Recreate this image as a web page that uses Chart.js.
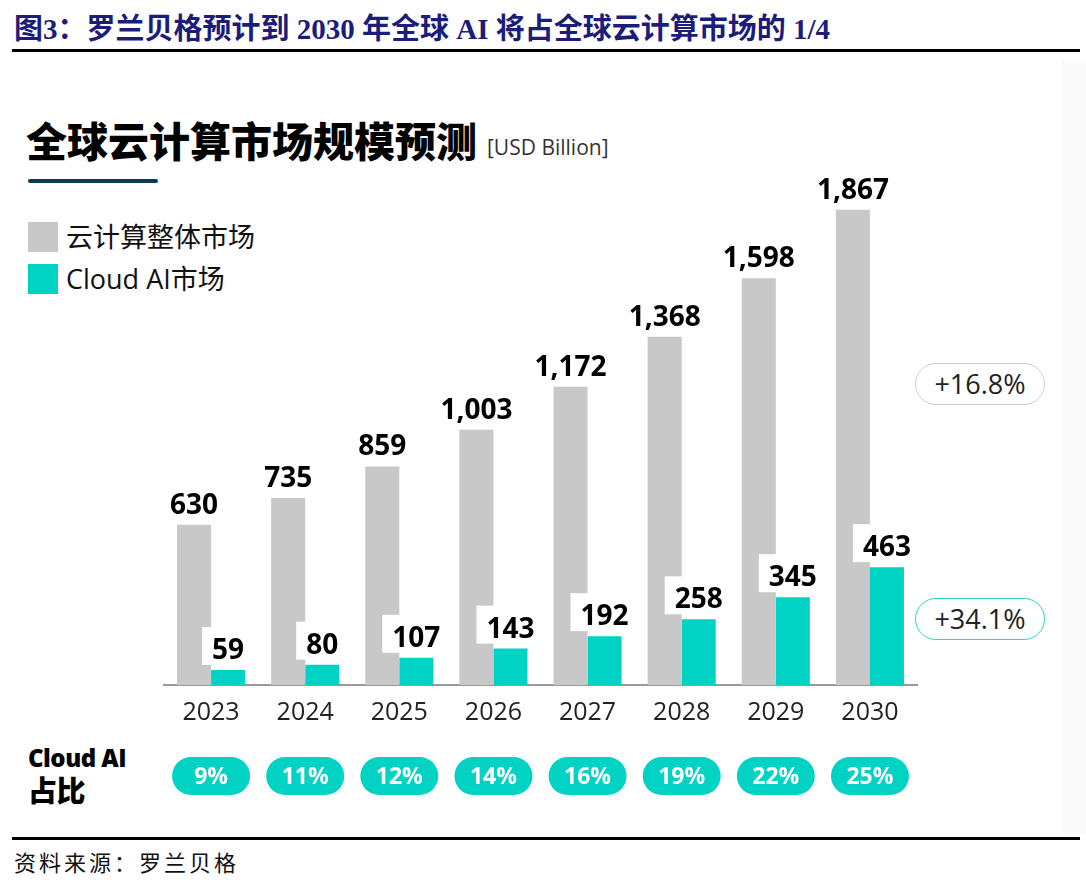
<!DOCTYPE html>
<html>
<head>
<meta charset="utf-8">
<script src="https://cdn.jsdelivr.net/npm/chart.js@4/dist/chart.umd.min.js"></script>
<style>
  html, body { margin: 0; padding: 0; background: #fff; }
  body { width: 1086px; height: 886px; position: relative; overflow: hidden; font-family: "Open Sans", "Noto Sans CJK SC", sans-serif; }
  .abs { position: absolute; white-space: nowrap; }
  #fig-title { left: 14px; top: 11px; font-family: "Liberation Serif", "Noto Sans CJK SC", serif; font-weight: bold; font-size: 29px; color: #1c1c7a; line-height: 36px; }
  #top-line { left: 12px; top: 49px; width: 1068px; height: 3px; background: #000; }
  #right-band { left: 1062px; top: 60px; width: 24px; height: 775px; background: #fafafa; }
  #chart-title { left: 26px; top: 113px; font-family: "Noto Sans CJK SC", sans-serif; font-weight: 900; font-size: 41px; color: #000; line-height: 52px; }
  #unit { left: 487px; top: 133px; font-size: 21px; color: #333; line-height: 28px; }
  #title-rule { left: 28px; top: 179px; width: 130px; height: 4px; background: #0e3b47; border-radius: 2px; }
  .swatch { left: 28px; width: 30px; height: 30px; }
  .leg { left: 66px; font-family: "Open Sans", "Noto Sans CJK SC", sans-serif; font-size: 27px; color: #111; line-height: 34px; }
  .growth { width: 128px; height: 40px; border-radius: 21px; background: #fff; text-align: center; line-height: 40px; font-size: 27px; color: #222; }
  #share-label { left: 28px; top: 741px; font-family: "Open Sans", "Noto Sans CJK SC", sans-serif; font-weight: 800; font-size: 24px; line-height: 33px; color: #000; letter-spacing: -0.5px; }
  #bottom-line { left: 12px; top: 837px; width: 1068px; height: 3px; background: #000; }
  #source { left: 14px; top: 846px; font-family: "Noto Sans CJK SC", serif; font-size: 22px; color: #111; line-height: 30px; letter-spacing: 3px; }
  #chart { position: absolute; left: 0; top: 0; }
</style>
</head>
<body>
<div class="abs" id="right-band"></div>
<div class="abs" id="fig-title">图3：罗兰贝格预计到 2030 年全球 AI 将占全球云计算市场的 1/4</div>
<div class="abs" id="top-line"></div>
<div class="abs" id="chart-title">全球云计算市场规模预测</div>
<div class="abs" id="unit">[USD Billion]</div>
<div class="abs" id="title-rule"></div>
<div class="abs swatch" style="top:222px;background:#c8c8c8"></div>
<div class="abs leg" style="top:220px">云计算整体市场</div>
<div class="abs swatch" style="top:264px;background:#00d2c4"></div>
<div class="abs leg" style="top:262px">Cloud AI市场</div>
<div class="abs growth" style="left:915px;top:363px;border:1.5px solid #cfcfcf">+16.8%</div>
<div class="abs growth" style="left:915px;top:598px;border:1.5px solid #2fd6c8">+34.1%</div>
<div class="abs" id="share-label">Cloud AI<br><span style="font-size:29px">占比</span></div>
<div class="abs" id="bottom-line"></div>
<div class="abs" id="source">资料来源：罗兰贝格</div>
<canvas id="chart" width="1086" height="886"></canvas>
<script>
const years = ['2023', '2024', '2025', '2026', '2027', '2028', '2029', '2030'];
const totalMarket = [630, 735, 859, 1003, 1172, 1368, 1598, 1867];
const cloudAI = [59, 80, 107, 143, 192, 258, 345, 463];
const aiShare = [9, 11, 12, 14, 16, 19, 22, 25];

const GRAY = '#c8c8c8';
const TEAL = '#00d2c4';

const valueLabels = {
  id: 'valueLabels',
  afterDatasetsDraw(chart) {
    const ctx = chart.ctx;
    ctx.save();
    ctx.font = 'bold 28px "Open Sans", sans-serif';
    ctx.textAlign = 'center';
    ctx.textBaseline = 'alphabetic';
    chart.data.datasets.forEach((ds, di) => {
      const meta = chart.getDatasetMeta(di);
      meta.data.forEach((bar, i) => {
        const txt = ds.data[i].toLocaleString('en-US');
        const y = bar.y - 11;
        if (di === 1) {
          const w = ctx.measureText(txt).width + 20;
          ctx.fillStyle = '#fff';
          ctx.fillRect(bar.x - w / 2, y - 32, w, 38);
        }
        ctx.fillStyle = '#000';
        ctx.fillText(txt, bar.x, y);
      });
    });
    ctx.restore();
  }
};

const sharePills = {
  id: 'sharePills',
  afterDraw(chart) {
    const ctx = chart.ctx;
    const xs = chart.scales.x;
    ctx.save();
    ctx.font = 'bold 23px "Open Sans", sans-serif';
    ctx.textAlign = 'center';
    ctx.textBaseline = 'middle';
    aiShare.forEach((v, i) => {
      const cx = xs.getPixelForValue(i);
      const w = 78, h = 38, cy = 776;
      ctx.fillStyle = TEAL;
      ctx.beginPath();
      ctx.roundRect(cx - w / 2, cy - h / 2, w, h, h / 2);
      ctx.fill();
      ctx.fillStyle = '#fff';
      ctx.fillText(v + '%', cx, cy + 1);
    });
    ctx.restore();
  }
};

new Chart(document.getElementById('chart').getContext('2d'), {
  type: 'bar',
  data: {
    labels: years,
    datasets: [
      { label: '云计算整体市场', data: totalMarket, backgroundColor: GRAY },
      { label: 'Cloud AI市场', data: cloudAI, backgroundColor: TEAL }
    ]
  },
  options: {
    responsive: false,
    animation: false,
    devicePixelRatio: 1,
    events: [],
    layout: { padding: { left: 164, right: 169, top: 176, bottom: 151 } },
    datasets: { bar: { categoryPercentage: 0.723, barPercentage: 1.0 } },
    plugins: { legend: { display: false }, tooltip: { enabled: false } },
    scales: {
      x: {
        grid: { display: false, drawTicks: false },
        border: { display: true, color: '#9a9a9a', width: 2 },
        ticks: { color: '#222', padding: 13, font: { family: '"Open Sans", sans-serif', size: 25 } },
        afterFit(scale) { scale.height = 50; }
      },
      y: { display: false, min: 0, max: 2000 }
    }
  },
  plugins: [valueLabels, sharePills]
});
</script>
</body>
</html>
